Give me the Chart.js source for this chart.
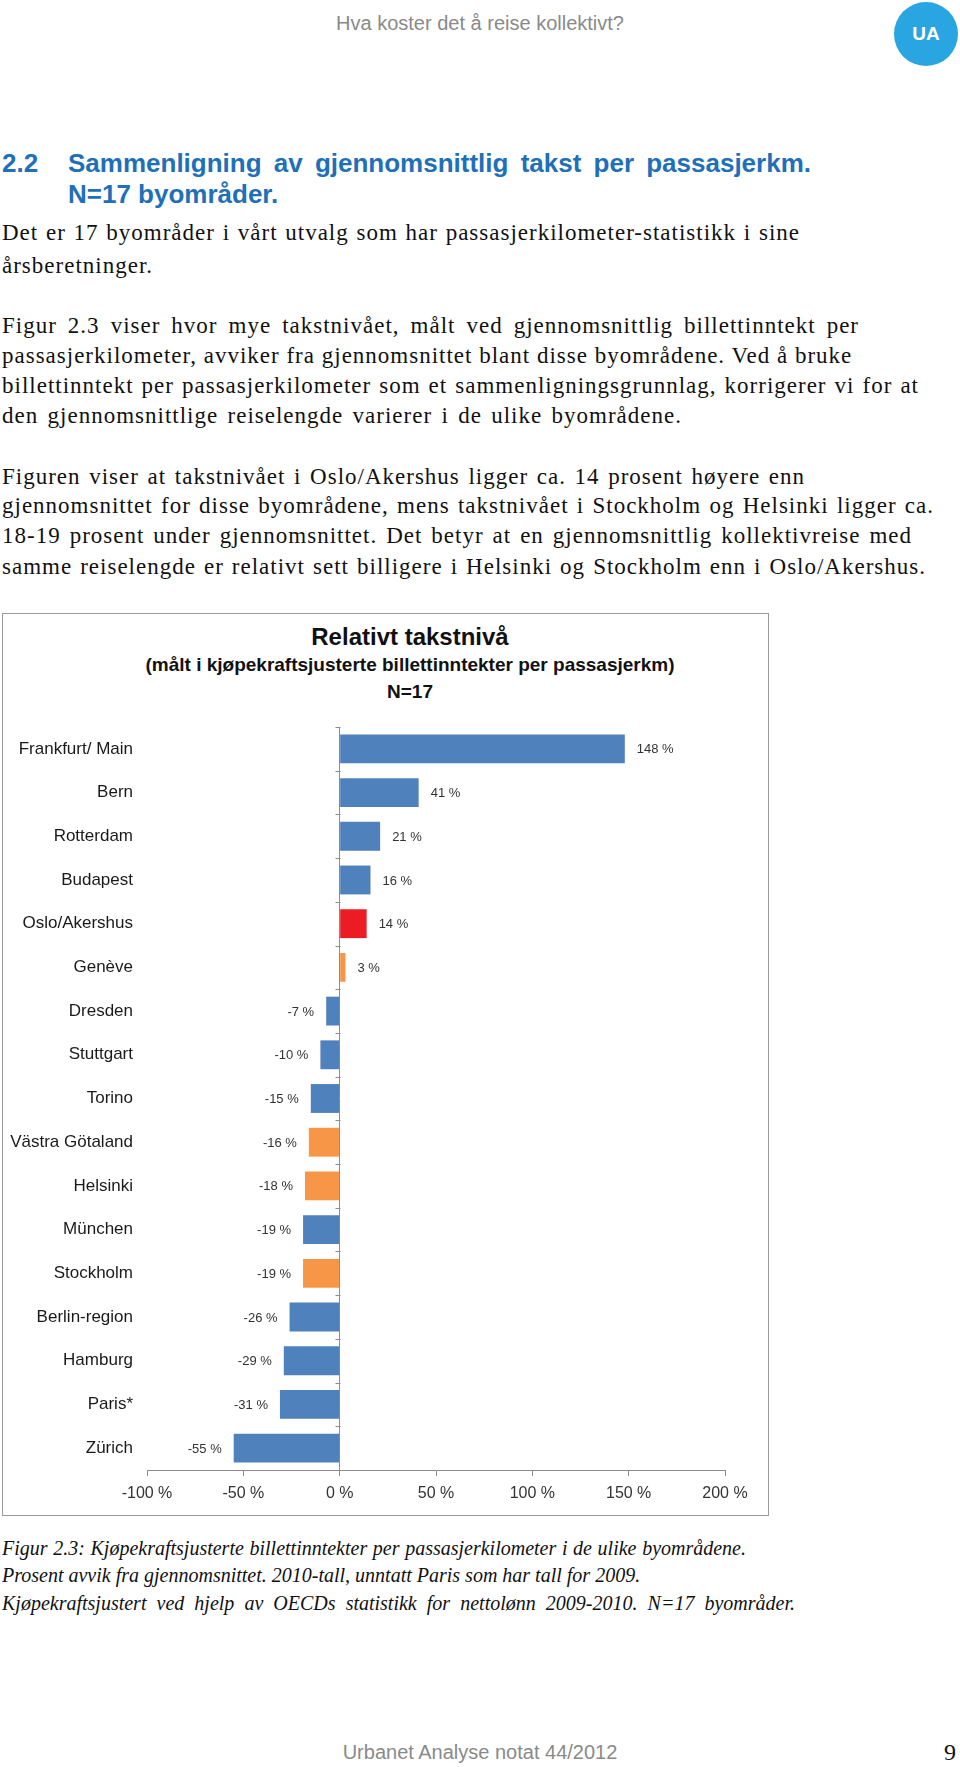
<!DOCTYPE html>
<html>
<head>
<meta charset="utf-8">
<script src="https://cdn.jsdelivr.net/npm/chart.js@4.4.0/dist/chart.umd.min.js"></script>
<style>
  html, body { margin: 0; padding: 0; background: #fff; }
  body { width: 960px; height: 1767px; position: relative; overflow: hidden; }
  .abs { position: absolute; white-space: nowrap; }
  .hdr { font-family: "Liberation Sans", Arial, sans-serif; color: #8a8a8a; font-size: 20px; line-height: 24px; }
  .h2 { font-family: "Liberation Sans", Arial, sans-serif; font-weight: bold; color: #1f70b8; font-size: 26px; line-height: 30px; }
  .txt { font-family: "Liberation Serif", "DejaVu Serif", serif; font-size: 23px; letter-spacing: 1px; line-height: 30px; color: #111; }
  .cap { font-style: italic; font-size: 20px; letter-spacing: 0; }
  .just { text-align: justify; text-align-last: justify; }
  #ua { position: absolute; left: 894px; top: 2px; width: 64px; height: 64px; border-radius: 50%; background: #29a6e1;
        color: #fff; font: bold 19px "Liberation Sans", Arial, sans-serif; text-align: center; line-height: 64px; }
  #box { position: absolute; left: 2px; top: 613px; width: 767px; height: 903px; border: 1px solid #9a9a9a; box-sizing: border-box; }
  .ct { position: absolute; left: 2px; width: 816px; text-align: center; white-space: nowrap;
        font-family: "Liberation Sans", Arial, sans-serif; font-weight: bold; font-size: 19px; line-height: 26px; color: #111; }
  #chart { position: absolute; left: 2px; top: 700px; }
</style>
</head>
<body>
<div class="abs hdr" style="left:0;width:960px;text-align:center;top:11px;">Hva koster det å reise kollektivt?</div>
<div id="ua">UA</div>

<div class="abs h2" style="left:2px;top:148px;">2.2</div>
<div class="abs h2 just" style="left:68px;top:148px;width:743px;">Sammenligning av gjennomsnittlig takst per passasjerkm.</div>
<div class="abs h2" style="left:68px;top:179px;">N=17 byområder.</div>

<div class="abs txt just" style="left:2px;top:218px;width:798px;">Det er 17 byområder i vårt utvalg som har passasjerkilometer-statistikk i sine</div>
<div class="abs txt" style="left:2px;top:251px;">årsberetninger.</div>
<div class="abs txt just" style="left:2px;top:311px;width:857px;">Figur 2.3 viser hvor mye takstnivået, målt ved gjennomsnittlig billettinntekt per</div>
<div class="abs txt just" style="left:2px;top:341px;width:841px;">passasjerkilometer, avviker fra gjennomsnittet blant disse byområdene. Ved å bruke</div>
<div class="abs txt just" style="left:2px;top:371px;width:917px;">billettinntekt per passasjerkilometer som et sammenligningsgrunnlag, korrigerer vi for at</div>
<div class="abs txt just" style="left:2px;top:401px;width:680px;">den gjennomsnittlige reiselengde varierer i de ulike byområdene.</div>
<div class="abs txt just" style="left:2px;top:462px;width:803px;">Figuren viser at takstnivået i Oslo/Akershus ligger ca. 14 prosent høyere enn</div>
<div class="abs txt just" style="left:2px;top:491px;width:932px;">gjennomsnittet for disse byområdene, mens takstnivået i Stockholm og Helsinki ligger ca.</div>
<div class="abs txt just" style="left:2px;top:521px;width:910px;">18-19 prosent under gjennomsnittet. Det betyr at en gjennomsnittlig kollektivreise med</div>
<div class="abs txt just" style="left:2px;top:552px;width:924px;">samme reiselengde er relativt sett billigere i Helsinki og Stockholm enn i Oslo/Akershus.</div>

<div id="box"></div>
<div class="ct" style="top:624px;font-size:24px;">Relativt takstnivå</div>
<div class="ct" style="top:652px;">(målt i kjøpekraftsjusterte billettinntekter per passasjerkm)</div>
<div class="ct" style="top:679px;">N=17</div>
<canvas id="chart" width="766" height="813"></canvas>

<div class="abs txt cap just" style="left:2px;top:1533px;width:744px;">Figur 2.3: Kjøpekraftsjusterte billettinntekter per passasjerkilometer i de ulike byområdene.</div>
<div class="abs txt cap" style="left:2px;top:1560px;">Prosent avvik fra gjennomsnittet. 2010-tall, unntatt Paris som har tall for 2009.</div>
<div class="abs txt cap just" style="left:2px;top:1588px;width:793px;">Kjøpekraftsjustert ved hjelp av OECDs statistikk for nettolønn 2009-2010. N=17 byområder.</div>

<div class="abs hdr" style="left:0;width:960px;text-align:center;top:1740px;font-size:20px;">Urbanet Analyse notat 44/2012</div>
<div class="abs txt" style="left:944px;top:1737px;font-size:24px;letter-spacing:0;">9</div>

<script>
(function () {
    const cities = ['Frankfurt/ Main', 'Bern', 'Rotterdam', 'Budapest', 'Oslo/Akershus', 'Genève', 'Dresden',
        'Stuttgart', 'Torino', 'Västra Götaland', 'Helsinki', 'München', 'Stockholm', 'Berlin-region',
        'Hamburg', 'Paris*', 'Zürich'];
    const avvik = [148, 41, 21, 16, 14, 3, -7, -10, -15, -16, -18, -19, -19, -26, -29, -31, -55];
    const orangeCities = ['Genève', 'Västra Götaland', 'Helsinki', 'Stockholm'];
    const redCities = ['Oslo/Akershus'];
    const xTickValues = [-100, -50, 0, 50, 100, 150, 200];
    const xTickLabels = ['-100 %', '-50 %', '0 %', '50 %', '100 %', '150 %', '200 %'];

    const BLUE = '#4f81bd', ORANGE = '#f79646', RED = '#ec1c24', AXIS = '#8c8c8c';
    const SANS = '"Liberation Sans", Arial, sans-serif';

    const barColors = cities.map(function (c) {
        if (redCities.indexOf(c) >= 0) return RED;
        if (orangeCities.indexOf(c) >= 0) return ORANGE;
        return BLUE;
    });

    const valueLabels = {
        id: 'valueLabels',
        afterDatasetsDraw: function (chart) {
            const ctx = chart.ctx;
            const meta = chart.getDatasetMeta(0);
            ctx.save();
            ctx.font = '13px ' + SANS;
            ctx.fillStyle = '#333';
            ctx.textBaseline = 'middle';
            meta.data.forEach(function (bar, i) {
                const v = avvik[i];
                if (v >= 0) {
                    ctx.textAlign = 'left';
                    ctx.fillText(v + ' %', bar.x + 12, bar.y + 1);
                } else {
                    ctx.textAlign = 'right';
                    ctx.fillText(v + ' %', bar.x - 12, bar.y + 1);
                }
            });
            ctx.restore();
        }
    };

    // small tick marks on the zero line between categories
    const catTicks = {
        id: 'catTicks',
        afterDatasetsDraw: function (chart) {
            const ctx = chart.ctx;
            const xs = chart.scales.x, ys = chart.scales.y;
            const x0 = Math.round(xs.getPixelForValue(0)) + 0.5;
            const half = (ys.getPixelForValue(1) - ys.getPixelForValue(0)) / 2;
            ctx.save();
            ctx.strokeStyle = AXIS;
            ctx.lineWidth = 1;
            ctx.beginPath();
            for (let i = 0; i < cities.length; i++) {
                const y = Math.round(ys.getPixelForValue(i) - half) + 0.5;
                ctx.moveTo(x0 - 5, y);
                ctx.lineTo(x0, y);
            }
            ctx.stroke();
            ctx.restore();
        }
    };

    new Chart(document.getElementById('chart').getContext('2d'), {
        type: 'bar',
        data: {
            labels: cities,
            datasets: [{
                data: avvik,
                backgroundColor: barColors,
                borderWidth: 0,
                barPercentage: 0.66,
                categoryPercentage: 1
            }]
        },
        options: {
            indexAxis: 'y',
            responsive: false,
            animation: false,
            layout: { padding: { top: 27, right: 43, left: 0, bottom: 0 } },
            plugins: { legend: { display: false }, tooltip: { enabled: false } },
            scales: {
                x: {
                    min: -100,
                    max: 200,
                    afterBuildTicks: function (s) { s.ticks = xTickValues.map(function (v) { return { value: v }; }); },
                    afterFit: function (s) { s.height = 43; },
                    ticks: {
                        padding: 8,
                        color: '#333',
                        font: { family: SANS, size: 16 },
                        callback: function (v, i) { return xTickLabels[i]; }
                    },
                    grid: {
                        drawOnChartArea: true,
                        drawTicks: true,
                        tickLength: 6,
                        tickColor: AXIS,
                        color: function (c) { return c.tick && c.tick.value === 0 ? AXIS : 'rgba(0,0,0,0)'; }
                    },
                    border: { display: true, color: AXIS }
                },
                y: {
                    afterFit: function (s) { s.width = 145; },
                    grid: { display: false, drawTicks: false },
                    border: { display: false },
                    ticks: {
                        padding: 14,
                        color: '#1a1a1a',
                        font: { family: SANS, size: 17 }
                    }
                }
            }
        },
        plugins: [valueLabels, catTicks]
    });
})();
</script>
</body>
</html>
